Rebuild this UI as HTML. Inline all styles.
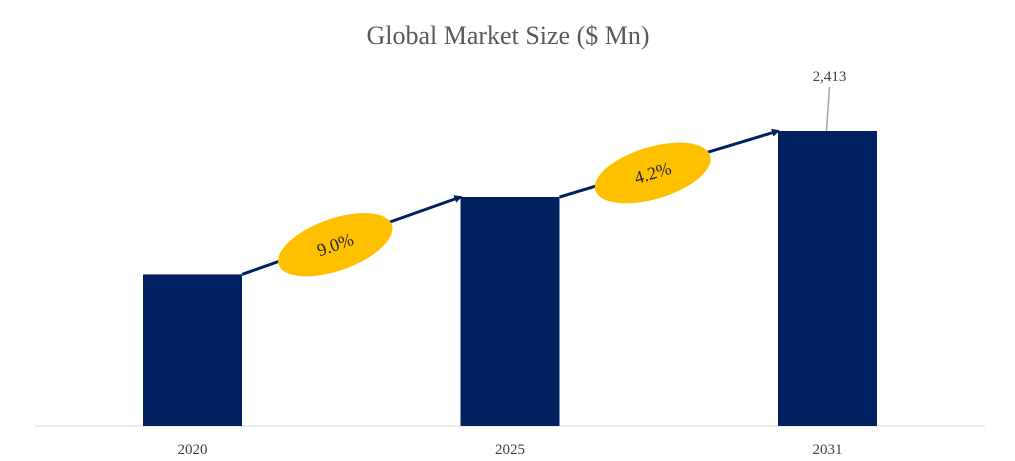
<!DOCTYPE html>
<html><head><meta charset="utf-8"><style>
body{margin:0;background:#fff;}
svg{display:block;font-family:"Liberation Serif",serif;}
</style></head><body>
<svg id="chart" width="1015" height="461">
<text x="508" y="44" text-anchor="middle" font-size="26" fill="#595959">Global  Market Size ($ Mn)</text>
<line x1="35" y1="426" x2="985" y2="426" stroke="#d9d9d9" stroke-width="1"/>
<defs><marker id="ah" markerWidth="8" markerHeight="8" refX="6" refY="4" orient="auto" markerUnits="userSpaceOnUse"><path d="M0,0 L8,4 L0,8 Z" fill="#002060"/></marker></defs>
<g id="marks"></g>
</svg>
<script>
const categories=["2020","2025","2031"];
const values=[1240,1873,2413];
const cagrLabels=["9.0%","4.2%"];
const valueLabels=["","","2,413"];
const ns="http://www.w3.org/2000/svg";
const g=document.getElementById("marks");
const base=426, scale=295/2413;
const xCenter=i=>192.5+i*(317.5);
const y=v=>base-v*scale;
const bw=99;
function mk(t,a){const e=document.createElementNS(ns,t);for(const k in a)e.setAttribute(k,a[k]);g.appendChild(e);return e;}
categories.forEach((c,i)=>{
 const b=mk("rect",{x:xCenter(i)-bw/2,y:y(values[i]),width:bw,height:base-y(values[i]),fill:"#002060"});
 
 
 const t=mk("text",{x:xCenter(i),y:454,"text-anchor":"middle","font-size":"15",fill:"#404040"});
 t.textContent=c;
 
 
 if(valueLabels[i]){
  const top=y(values[i]);
  const l=mk("line",{x1:xCenter(i)+2,y1:top-44,x2:xCenter(i)-1,y2:top,stroke:"#a6a6a6","stroke-width":"1.5"});
  
  
  const v=mk("text",{x:xCenter(i)+2,y:top-50,"text-anchor":"middle","font-size":"15",fill:"#404040"});
  v.textContent=valueLabels[i];
  
  
 }
});
for(let i=0;i<categories.length-1;i++){
 const x1=xCenter(i)+bw/2,y1=y(values[i]),x2=xCenter(i+1)-bw/2,y2=y(values[i+1]);
 const a=mk("line",{x1:x1,y1:y1,x2:x2,y2:y2,stroke:"#002060","stroke-width":"3","marker-end":"url(#ah)"});
 
 
 const cx=(x1+x2)/2-16, cy=(y1+y2)/2+9;
 const ang=Math.atan2(y2-y1,x2-x1)*180/Math.PI;
 const e=mk("ellipse",{cx:cx,cy:cy,rx:60,ry:26,fill:"#ffc000",transform:`rotate(${ang} ${cx} ${cy})`});
 
 
 const t=mk("text",{x:cx,y:cy+6,"text-anchor":"middle","font-size":"18",fill:"#262626",transform:`rotate(${ang} ${cx} ${cy})`});
 t.textContent=cagrLabels[i];
 
 
}
</script>
</body></html>
